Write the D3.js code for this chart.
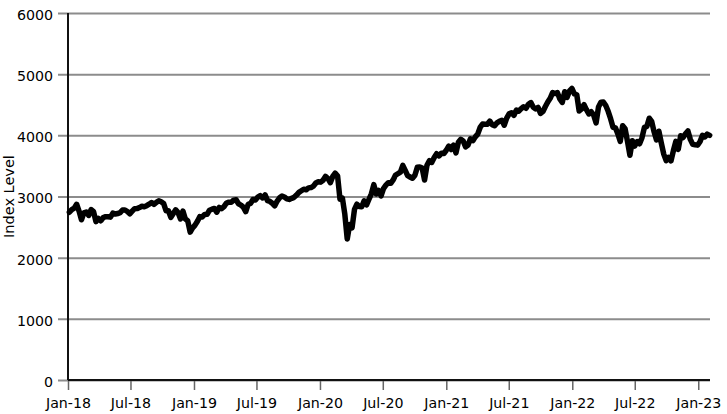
<!DOCTYPE html>
<meta charset="utf-8">
<style>
body { margin: 0; background: #fff; }
svg { display: block; }
text { font-family: "DejaVu Sans", sans-serif; }
.grid line { stroke: #8c8c8c; stroke-width: 2px; }
.tick text { fill: #000; font-size: 14.2px; font-family: "DejaVu Sans", sans-serif; }
</style>
<svg width="727" height="414"></svg>
<script src="https://d3js.org/d3.v7.min.js"></script>
<script>

// weekly closes, first one is the week ending 2018-01-05
var firstWeek = "2018-01-05";
var closes2018 = [2743, 2786, 2810, 2873, 2762, 2620, 2732, 2747, 2691, 2786, 2752, 2588, 2641,
  2604, 2656, 2670, 2670, 2663, 2728, 2713, 2721, 2735, 2779, 2780, 2755, 2718,
  2760, 2801, 2802, 2819, 2840, 2833, 2850, 2875, 2902, 2872, 2905, 2930, 2914,
  2886, 2767, 2768, 2659, 2723, 2781, 2736, 2633, 2760, 2633, 2600, 2417, 2486];
var closes2019 = [2532, 2596, 2671, 2665, 2707, 2708, 2776, 2793, 2804, 2743, 2822, 2801, 2834,
  2893, 2907, 2905, 2940, 2946, 2881, 2860, 2826, 2752, 2873, 2887, 2950, 2942,
  2990, 3014, 2977, 3026, 2932, 2919, 2889, 2847, 2926, 2979, 3007, 2992, 2962,
  2952, 2970, 2986, 3023, 3067, 3093, 3120, 3110, 3141, 3146, 3169, 3221, 3240];
var closes2020 = [3235, 3265, 3330, 3295, 3226, 3328, 3380, 3338, 2954, 2972, 2711, 2305, 2541,
  2489, 2790, 2875, 2837, 2831, 2930, 2864, 2955, 3044, 3194, 3041, 3098, 3009,
  3130, 3185, 3225, 3216, 3271, 3351, 3373, 3397, 3508, 3427, 3341, 3319, 3298,
  3348, 3477, 3484, 3465, 3270, 3510, 3585, 3558, 3638, 3699, 3663, 3709, 3703, 3756];
var closes2021 = [3825, 3768, 3841, 3714, 3887, 3934, 3907, 3811, 3842, 3943, 3913, 3975,
  4020, 4129, 4185, 4180, 4181, 4233, 4174, 4156, 4204, 4230, 4247, 4166, 4281,
  4352, 4370, 4327, 4412, 4395, 4437, 4468, 4442, 4509, 4535, 4459, 4433, 4455,
  4357, 4391, 4471, 4545, 4605, 4698, 4683, 4698, 4595, 4538, 4712, 4620, 4726, 4766];
var closes2022 = [4677, 4663, 4398, 4432, 4501, 4419, 4349, 4385, 4329, 4204, 4463, 4543,
  4546, 4488, 4393, 4272, 4132, 4123, 4024, 3901, 4158, 4109, 3901, 3675, 3912,
  3825, 3899, 3863, 3962, 4130, 4145, 4280, 4228, 4058, 3924, 4067, 3873, 3693, 3586,
  3640, 3583, 3752, 3901, 3771, 3993, 3965, 4026, 4072, 3934, 3852, 3845, 3840];
var closes2023 = [3895, 3999, 3973, 4020, 4000];

var yTicks = [0, 1000, 2000, 3000, 4000, 5000, 6000];
var xTicks = ["2018-01-01", "2018-07-01", "2019-01-01", "2019-07-01", "2020-01-01",
  "2020-07-01", "2021-01-01", "2021-07-01", "2022-01-01", "2022-07-01", "2023-01-01"];
var xStart = "2018-01-01", xEnd = "2023-02-04";
var yLabel = "Index Level";

var parse = d3.timeParse("%Y-%m-%d");
var start = parse(firstWeek);
var closes = [].concat(closes2018, closes2019, closes2020, closes2021, closes2022, closes2023);
var data = closes.map(function(v, i) {
  return {date: d3.timeDay.offset(start, 7 * i), value: v};
});

var svg = d3.select("svg"),
    margin = {top: 13, right: 17, bottom: 34, left: 68},
    width = +svg.attr("width") - margin.left - margin.right,
    height = +svg.attr("height") - margin.top - margin.bottom;

var g = svg.append("g")
    .attr("transform", "translate(" + margin.left + "," + margin.top + ")");

var x = d3.scaleTime()
    .domain([parse(xStart), parse(xEnd)])
    .range([0, width]);

var y = d3.scaleLinear()
    .domain([0, 6000])
    .range([height, 0]);

// horizontal grid + y ticks
var yAxis = g.append("g")
    .attr("class", "grid")
    .call(d3.axisLeft(y).tickValues(yTicks).tickFormat(d3.format("d")).tickSize(-width - 10).tickPadding(5))
    .attr("transform", "translate(-10,0)")
    .call(function(s) { s.select(".domain").remove(); });
yAxis.selectAll(".tick line").attr("x1", 0).attr("x2", width + 10);
yAxis.selectAll(".tick text").attr("dy", "0.45em");

var xAxis = g.append("g")
    .attr("transform", "translate(0," + height + ")")
    .call(d3.axisBottom(x)
      .tickValues(xTicks.map(parse))
      .tickFormat(d3.timeFormat("%b-%y"))
      .tickSize(10)
      .tickPadding(8));
xAxis.select(".domain").remove();
xAxis.selectAll(".tick line").attr("stroke", "#666").attr("stroke-width", 1.5);

// axis lines
g.append("line")
    .attr("x1", 0).attr("x2", width)
    .attr("y1", height).attr("y2", height)
    .attr("stroke", "#111").attr("stroke-width", 2.2);
g.append("line")
    .attr("x1", 0).attr("x2", 0)
    .attr("y1", 0).attr("y2", height)
    .attr("stroke", "#111").attr("stroke-width", 2);

var line = d3.line()
    .x(function(d) { return x(d.date); })
    .y(function(d) { return y(d.value); });

g.append("path")
    .datum(data)
    .attr("fill", "none")
    .attr("stroke", "#000")
    .attr("stroke-width", 5.5)
    .attr("stroke-linejoin", "round")
    .attr("stroke-linecap", "round")
    .attr("d", line);

svg.append("text")
    .attr("transform", "translate(9," + (margin.top + height / 2) + ") rotate(-90)")
    .attr("text-anchor", "middle")
    .attr("dy", "0.35em")
    .style("font-size", "14.5px")
    .text(yLabel);

</script>
